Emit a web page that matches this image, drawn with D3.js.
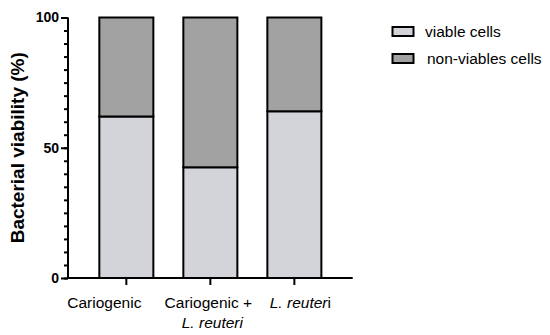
<!DOCTYPE html>
<html>
<head>
<meta charset="utf-8">
<script src="https://cdn.jsdelivr.net/npm/d3@7"></script>
<style>
  body { margin: 0; background: #fff; }
  svg { display: block; font-family: "Liberation Sans", Arial, sans-serif; }
</style>
</head>
<body>
<div id="chart"></div>
<script>
const groups = ['Cariogenic', 'Cariogenic + L. reuteri', 'L. reuteri'];
const viable = [62, 42.5, 64];
const nonViable = [38, 57.5, 36];
const seriesNames = ['viable cells', 'non-viables cells'];
const seriesColors = ['#d3d4d9', '#a2a2a2'];
const majorTicks = [0, 50, 100];

const width = 550, height = 335;
const svg = d3.select('#chart').append('svg')
    .attr('width', width)
    .attr('height', height);

const x = d3.scaleBand()
    .domain(groups)
    .range([68, 352.7])
    .paddingInner(0.357)
    .paddingOuter(0.373);

const y = d3.scaleLinear()
    .domain([0, 100])
    .range([278, 17.5]);

// stacked bars
const rows = groups.map((g, i) => ({ group: g, viable: viable[i], nonViable: nonViable[i] }));
const stack = d3.stack().keys(['viable', 'nonViable'])(rows);

svg.append('g').selectAll('g')
  .data(stack)
  .join('g')
    .attr('fill', (d, i) => seriesColors[i])
  .selectAll('rect')
  .data(d => d)
  .join('rect')
    .attr('x', d => x(d.data.group))
    .attr('y', d => y(d[1]))
    .attr('width', x.bandwidth())
    .attr('height', d => y(d[0]) - y(d[1]))
    .attr('stroke', '#000')
    .attr('stroke-width', 2);

// y axis: minor ticks every 5
const yAxis = svg.append('g').attr('transform', 'translate(68,0)');
yAxis.call(d3.axisLeft(y).tickValues(d3.range(0, 101, 5)).tickSize(4).tickFormat(''))
  .call(g => g.select('.domain').remove())
  .call(g => g.selectAll('line').attr('stroke-width', 2));
yAxis.append('g')
  .call(d3.axisLeft(y).tickValues(majorTicks).tickSize(7).tickPadding(2))
  .call(g => g.select('.domain').attr('stroke-width', 2).attr('d', `M0,${y(100)}V${y(0)}`))
  .call(g => g.selectAll('line').attr('stroke-width', 2))
  .call(g => g.selectAll('text')
      .attr('font-family', '"Liberation Sans", Arial, sans-serif')
      .attr('font-size', 14)
      .attr('font-weight', 'bold')
      .attr('fill', '#000'));

// x axis
svg.append('g').attr('transform', `translate(0,${y(0)})`)
  .call(d3.axisBottom(x).tickSize(7).tickFormat(''))
  .call(g => g.select('.domain').attr('stroke-width', 2).attr('d', `M67,0H352.7`))
  .call(g => g.selectAll('line').attr('stroke-width', 2));

// x labels (slightly off-centre from their ticks, as in the original)
const labelFont = 15.5;
const cx = i => x(groups[i]) + x.bandwidth() / 2;
svg.append('text')
  .attr('x', cx(0) - 22)
  .attr('y', 308)
  .attr('text-anchor', 'middle')
  .attr('font-size', labelFont)
  .text('Cariogenic');

svg.append('text')
  .attr('x', cx(1) - 2)
  .attr('y', 308)
  .attr('text-anchor', 'middle')
  .attr('font-size', labelFont)
  .text('Cariogenic +');
svg.append('text')
  .attr('x', cx(1) + 2)
  .attr('y', 328)
  .attr('text-anchor', 'middle')
  .attr('font-size', labelFont)
  .attr('font-style', 'italic')
  .text('L. reuteri');

const lab3 = svg.append('text')
  .attr('x', cx(2) + 6)
  .attr('y', 308)
  .attr('text-anchor', 'middle')
  .attr('font-size', labelFont);
lab3.append('tspan').attr('font-style', 'italic').text('L. reuter');
lab3.append('tspan').text('i');

// y title
svg.append('text')
  .attr('transform', `translate(24,${(y(0) + y(100)) / 2}) rotate(-90)`)
  .attr('text-anchor', 'middle')
  .attr('font-size', 19)
  .attr('font-weight', 'bold')
  .text('Bacterial viability (%)');

// legend
const legend = svg.append('g').selectAll('g')
  .data(seriesNames)
  .join('g')
    .attr('transform', (d, i) => `translate(0,${i * 27})`);
legend.append('rect')
  .attr('x', 392.5)
  .attr('y', 27)
  .attr('width', 21)
  .attr('height', 9)
  .attr('fill', (d, i) => seriesColors[i])
  .attr('stroke', '#000')
  .attr('stroke-width', 2);
legend.append('text')
  .attr('x', (d, i) => i === 0 ? 425 : 427)
  .attr('y', 37)
  .attr('font-size', 15.5)
  .text(d => d);
</script>
</body>
</html>
